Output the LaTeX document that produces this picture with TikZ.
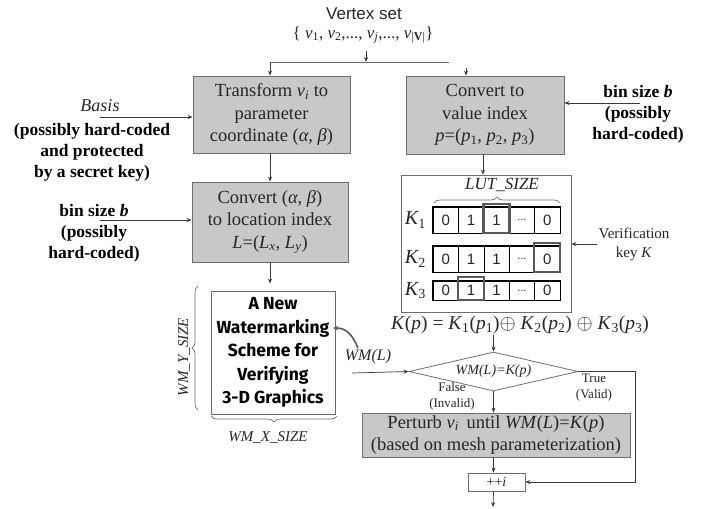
\documentclass[tikz,border=0pt]{standalone}
\usepackage{fontspec}
\setmainfont{Liberation Serif}
\setsansfont{Liberation Sans}
\newfontfamily\casualfont{Fira Sans}
\usetikzlibrary{shapes.geometric,arrows.meta,decorations.pathreplacing}

\definecolor{boxfill}{HTML}{C8C8C8}
\definecolor{boxline}{HTML}{6E6E6E}
\definecolor{linec}{HTML}{3A3A3A}
\definecolor{txt}{HTML}{262626}
\definecolor{hil}{HTML}{5A5A5A}

\newcommand\sbs[1]{\textsubscript{#1}}
\newcommand\vsub[1]{\textit{v}\textsubscript{#1}}

\tikzset{
  box/.style={draw=boxline, fill=boxfill, line width=0.8pt, inner sep=0pt,
    align=center, text=txt, font=\fontsize{18.5}{22.5}\selectfont},
  plainbox/.style={draw=boxline, line width=0.8pt, inner sep=0pt, align=center, text=txt},
  arr/.style={-{Stealth[length=5pt,width=4pt]}, line width=0.7pt, draw=linec},
  side/.style={font=\bfseries\fontsize{17.5}{21}\selectfont, align=center, text=black},
  cell/.style={draw=black, line width=0.6pt, minimum width=25.4pt, inner sep=0pt,
    font=\sffamily\fontsize{15}{15}\selectfont, text=txt},
  rowframe/.style={draw=black, line width=1.6pt},
  hilite/.style={draw=hil, line width=2.2pt},
  brc/.style={decorate, decoration={brace, amplitude=6pt}, draw=boxline, line width=0.7pt},
  lab/.style={text=txt, inner sep=1pt},
}

\begin{document}
\begin{tikzpicture}[x=1pt, y=-1pt]
\useasboundingbox (0,0) rectangle (711,508);

% ---------- input vertex set ----------
\node[lab, font=\sffamily\fontsize{17}{17}\selectfont] (vs) at (364,14) {Vertex set};
\node[lab, font=\fontsize{17}{17}\selectfont] (set) at (363,35)
  {\{ \vsub{1}, \vsub{2},..., \vsub{\textit{j}},..., \vsub{|\textbf{V}|}\}};
\coordinate (jt) at (366,51);
\coordinate (jm) at (366,62);
\coordinate (jl) at (270,62);
\coordinate (jr) at (449,62);
\coordinate (cvin) at (466,68);

% ---------- main boxes ----------
\node[box, minimum width=157pt, minimum height=77pt] (tr) at (271.5,114.5)
  {Transform \vsub{\textit{i}} to\\ parameter\\ coordinate (\textit{α}, \textit{β})};
\node[box, minimum width=156pt, minimum height=80pt] (cl) at (270,222)
  {Convert (\textit{α}, \textit{β})\\ to location index\\ \textit{L}=(\textit{L}\sbs{\textit{x}}, \textit{L}\sbs{\textit{y}})};
\node[box, minimum width=158pt, minimum height=78pt] (cv) at (485,115)
  {Convert to\\ value index\\ \textit{p}=(\textit{p}\sbs{1}, \textit{p}\sbs{2}, \textit{p}\sbs{3})};

% ---------- side inputs ----------
\node[lab, font=\itshape\fontsize{18}{18}\selectfont] (basis) at (100,106) {Basis};
\node[side] (basisnote) at (92,152) {(possibly hard-coded\\ and protected\\ by a secret key)};
\coordinate (bs) at (100,117);
\node[side] (binl) at (94,233) {bin size \textit{b}\\ (possibly\\ hard-coded)};
\coordinate (bl) at (100,220);
\node[side] (binr) at (638,114) {bin size \textit{b}\\ (possibly\\ hard-coded)};
\coordinate (br) at (640,103);

% ---------- look-up tables ----------
\node[plainbox, minimum width=170pt, minimum height=137pt] (lut) at (486,243.5) {};
\node[lab, font=\itshape\fontsize{17}{17}\selectfont] (lutsize) at (502,185) {LUT\_SIZE};
\coordinate (lb1) at (434,203);
\coordinate (lb2) at (560,203);

\foreach \r/\y/\h in {1/220/26, 2/259/26, 3/290.5/19} {
  \foreach \c/\v in {1/0, 2/1, 3/1, 4/{\fontsize{11}{11}\selectfont ...}, 5/0} {
    \node[cell, minimum height=\h pt] (k\r c\c) at ({433+25.4*(\c-0.5)},\y) {\v};
  }
  \draw[rowframe] (k\r c1.north west) rectangle (k\r c5.south east);
  \node[lab, font=\itshape\fontsize{20}{20}\selectfont, anchor=east] (klab\r) at (427,\y) {K\sbs{\upshape\r}};
}
\draw[hilite] (k1c3.south west) rectangle ([yshift=3pt]k1c3.north east);
\draw[hilite] (k2c5.south west) rectangle ([yshift=3pt]k2c5.north east);
\draw[hilite] (k3c2.south west) rectangle ([yshift=4pt]k3c2.north east);

\node[lab, align=center, font=\fontsize{15}{19}\selectfont] (vk) at (634,244) {Verification\\ key \textit{K}};

\node[lab, font=\fontsize{19.5}{19.5}\selectfont] (kf) at (520,325)
  {\textit{K}(\textit{p}) = \textit{K}\sbs{1}(\textit{p}\sbs{1})$\oplus$ \textit{K}\sbs{2}(\textit{p}\sbs{2}) $\oplus$ \textit{K}\sbs{3}(\textit{p}\sbs{3})};

% ---------- watermark image ----------
\node[plainbox, minimum width=124pt, minimum height=123pt,
  font=\casualfont\bfseries\fontsize{17.5}{23.5}\selectfont, text=black] (wm) at (273,352.5)
  {A New\\ Watermarking\\ Scheme for\\ Verifying\\ 3-D Graphics};
\coordinate (yb1) at (198,410);
\coordinate (yb2) at (198,286);
\coordinate (xb1) at (337,416);
\coordinate (xb2) at (211,416);
\node[lab, rotate=90, font=\itshape\fontsize{15}{15}\selectfont] (wmy) at (184,357) {WM\_Y\_SIZE};
\node[lab, font=\itshape\fontsize{15}{15}\selectfont] (wmx) at (268,437) {WM\_X\_SIZE};
\node[lab, font=\itshape\fontsize{16}{16}\selectfont] (wml) at (368,357) {WM(L)};
\coordinate (wmo) at (352,373);
\coordinate (cs) at (358,348);
\coordinate (ce) at (333,328);

% ---------- decision and update ----------
\node[draw=boxline, line width=0.8pt, diamond, aspect=4.33, minimum width=169pt, minimum height=39pt,
  inner sep=0pt, text=txt, font=\itshape\fontsize{14}{14}\selectfont] (d) at (493.5,371.5) {WM(L)=K(p)};
\node[lab, align=center, font=\fontsize{13}{16}\selectfont] (fl) at (452,396) {False\\ (Invalid)};
\node[lab, align=center, font=\fontsize{13}{16}\selectfont] (tl) at (594,388) {True\\ (Valid)};
\node[box, minimum width=268pt, minimum height=44pt] (pt) at (496,435)
  {Perturb \vsub{\textit{i}}\, until \textit{WM}(\textit{L})=\textit{K}(\textit{p})\\ (based on mesh parameterization)};
\node[plainbox, fill=white, minimum width=57pt, minimum height=18pt,
  font=\fontsize{14}{14}\selectfont] (inc) at (496.5,482) {++\textit{i}};
\coordinate (rt) at (635,420);
\coordinate (out) at (493,507);

% ---------- connectors ----------
\draw[arr] (jt) -- (jm);
\draw[line width=0.7pt, draw=boxline] (jl) -- (jr);
\draw[arr] (jl) -- (jl |- tr.north);
\draw[arr] (cvin) -- (cvin |- cv.north);
\draw[arr] (bs) -- (bs -| tr.west);
\draw[arr] (bl) -- (bl -| cl.west);
\draw[arr] (br) -- (br -| cv.east);
\draw[arr] (tr.south -| jl) -- (cl.north -| jl);
\draw[arr] (cl.south -| jl) -- ([yshift=7pt]wm.north -| jl);
\draw[arr] (cv.south -| 483,0) -- (lut.north -| 483,0);
\draw[arr] (vk.west) -- (vk.west -| lut.east);
\draw[arr] (d.north |- kf.south) -- (d.north);
\draw[arr] (wmo) -- (d.west);
\draw[-{Stealth[length=5pt,width=4.5pt]}, line width=1.6pt, draw=hil]
  (cs) .. controls (352,334) and (346,328) .. (ce);
\draw[arr] (d.south) -- (d.south |- pt.north);
\draw[arr] (pt.south -| d.south) -- (inc.north -| d.south);
\draw[arr] (inc.south -| d.south) -- (out);
\draw[arr] (d.east) -| (rt) |- (inc.east);

% ---------- size braces ----------
\draw[brc] (lb1) -- (lb2);
\draw[brc] (yb1) -- (yb2);
\draw[brc] (xb1) -- (xb2);
\end{tikzpicture}
\end{document}
